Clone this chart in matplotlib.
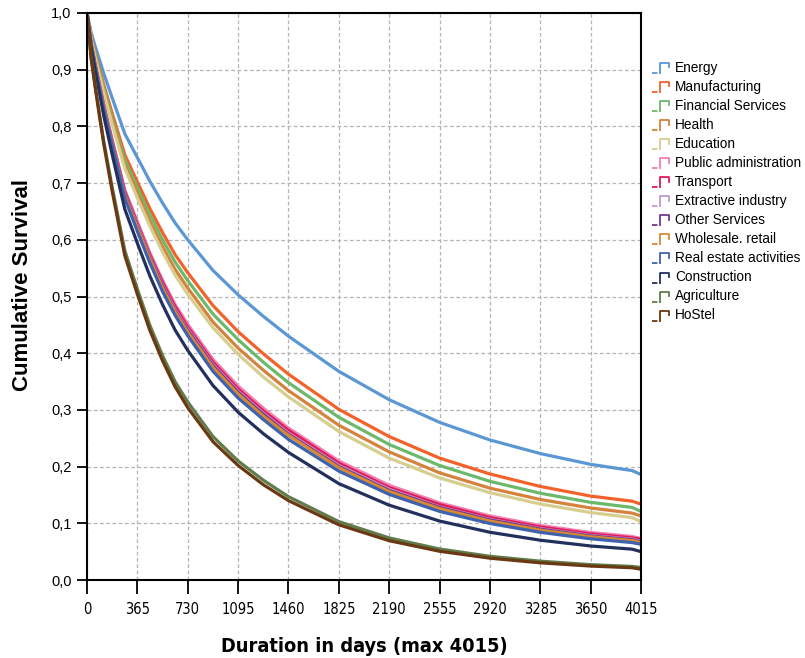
import matplotlib
matplotlib.use('Agg')
import matplotlib.pyplot as plt
from matplotlib import font_manager as fm
from matplotlib.lines import Line2D
from matplotlib.legend_handler import HandlerBase
from matplotlib.ticker import FuncFormatter

# days at which the survival curves were read
days = [0, 30, 61, 91, 122, 183, 274, 365, 456, 547, 638, 730, 913, 1095, 1278, 1460,
        1825, 2190, 2555, 2920, 3285, 3650, 3950, 4015]

sectors = ['Energy', 'Manufacturing', 'Financial Services', 'Health', 'Education',
           'Public administration', 'Transport', 'Extractive industry', 'Other Services',
           'Wholesale. retail', 'Real estate activities', 'Construction', 'Agriculture', 'HoStel']

colors = ['#5b97d4', '#f2622a', '#6cb96c', '#d4823c', '#d6cd8e', '#f07fb2', '#e0195a',
          '#c49ad2', '#74388c', '#d98a30', '#3f62ae', '#23305e', '#5f7c4a', '#6a3812']

energy = [1.0, 0.965, 0.94, 0.917, 0.893, 0.85, 0.787, 0.745, 0.703, 0.665, 0.630, 0.600, 0.546,
          0.503, 0.465, 0.430, 0.368, 0.318, 0.278, 0.247, 0.223, 0.204, 0.193, 0.186]
manufacturing = [1.0, 0.958, 0.928, 0.901, 0.873, 0.823, 0.750, 0.702, 0.655, 0.613, 0.574, 0.542,
                 0.484, 0.438, 0.399, 0.363, 0.301, 0.253, 0.215, 0.187, 0.165, 0.148, 0.139, 0.134]
financial = [1.0, 0.956, 0.926, 0.897, 0.868, 0.816, 0.741, 0.692, 0.644, 0.600, 0.561, 0.528,
             0.469, 0.424, 0.384, 0.348, 0.287, 0.239, 0.202, 0.174, 0.153, 0.137, 0.128, 0.121]
health = [1.0, 0.955, 0.923, 0.893, 0.863, 0.810, 0.732, 0.682, 0.632, 0.588, 0.548, 0.515,
          0.455, 0.409, 0.370, 0.334, 0.273, 0.226, 0.189, 0.162, 0.142, 0.127, 0.118, 0.113]
education = [1.0, 0.953, 0.920, 0.890, 0.859, 0.804, 0.726, 0.674, 0.624, 0.579, 0.538, 0.504,
             0.445, 0.398, 0.358, 0.323, 0.262, 0.215, 0.180, 0.154, 0.134, 0.119, 0.110, 0.103]
public_adm = [1.0, 0.946, 0.908, 0.873, 0.838, 0.776, 0.688, 0.632, 0.577, 0.529, 0.486, 0.451,
              0.389, 0.342, 0.303, 0.268, 0.210, 0.167, 0.136, 0.113, 0.0962, 0.0838, 0.0768, 0.073]
transport = [1.0, 0.945, 0.907, 0.872, 0.836, 0.774, 0.685, 0.628, 0.573, 0.525, 0.482, 0.446,
             0.384, 0.337, 0.298, 0.264, 0.206, 0.163, 0.133, 0.110, 0.0934, 0.0812, 0.0743, 0.072]
extractive = [1.0, 0.945, 0.906, 0.870, 0.834, 0.771, 0.681, 0.625, 0.569, 0.520, 0.477, 0.442,
              0.380, 0.333, 0.294, 0.259, 0.202, 0.160, 0.129, 0.107, 0.0906, 0.0786, 0.0719, 0.068]
other_serv = [1.0, 0.944, 0.905, 0.870, 0.833, 0.770, 0.680, 0.623, 0.567, 0.518, 0.475, 0.440,
              0.378, 0.331, 0.292, 0.257, 0.200, 0.158, 0.128, 0.106, 0.0897, 0.0777, 0.0710, 0.067]
wholesale = [1.0, 0.944, 0.904, 0.869, 0.832, 0.768, 0.677, 0.621, 0.565, 0.515, 0.473, 0.437,
             0.375, 0.328, 0.289, 0.255, 0.198, 0.156, 0.126, 0.104, 0.0879, 0.0762, 0.0695, 0.066]
real_estate = [1.0, 0.943, 0.903, 0.867, 0.829, 0.765, 0.673, 0.615, 0.559, 0.509, 0.467, 0.431,
               0.368, 0.321, 0.283, 0.248, 0.192, 0.151, 0.121, 0.0997, 0.0841, 0.0727, 0.066, 0.063]
construction = [1.0, 0.939, 0.896, 0.858, 0.818, 0.750, 0.654, 0.594, 0.536, 0.486, 0.441, 0.405,
                0.343, 0.296, 0.258, 0.225, 0.170, 0.132, 0.104, 0.0842, 0.0702, 0.060, 0.0544, 0.050]
agriculture = [1.0, 0.922, 0.869, 0.821, 0.773, 0.692, 0.581, 0.513, 0.449, 0.396, 0.350, 0.314,
               0.253, 0.210, 0.176, 0.147, 0.103, 0.0742, 0.0547, 0.0418, 0.0332, 0.0271, 0.0239, 0.022]
hostel = [1.0, 0.920, 0.866, 0.817, 0.768, 0.685, 0.572, 0.504, 0.440, 0.387, 0.341, 0.304,
          0.244, 0.202, 0.168, 0.140, 0.0974, 0.0693, 0.0507, 0.0385, 0.0303, 0.0246, 0.0216, 0.019]

series = [energy, manufacturing, financial, health, education, public_adm, transport,
          extractive, other_serv, wholesale, real_estate, construction, agriculture, hostel]

xticks = [0, 365, 730, 1095, 1460, 1825, 2190, 2555, 2920, 3285, 3650, 4015]

# the original uses a narrow Arial-like face on the x axis
installed = {f.name for f in fm.fontManager.ttflist}
if 'Liberation Sans Narrow' in installed:
    narrow = dict(family='Liberation Sans Narrow')
else:
    narrow = dict(family='DejaVu Sans', stretch='condensed')


class HandlerStep(HandlerBase):
    # little step-shaped legend key
    def create_artists(self, legend, orig_handle, xdescent, ydescent, width, height, fontsize, trans):
        c = orig_handle.get_color()
        x0, y0 = -xdescent, -ydescent - 1
        low = Line2D([x0, x0 + width * 0.45], [y0] * 2, color=c, lw=1.3,
                     linestyle=(0, (3, 1)), transform=trans)
        step = Line2D([x0 + width * 0.45, x0 + width * 0.45, x0 + width * 0.92, x0 + width * 0.92],
                      [y0, y0 + height * 1.05, y0 + height * 1.05, y0 + height * 0.6],
                      color=c, lw=1.3, transform=trans)
        return [low, step]


fig = plt.figure(figsize=(8.05, 6.58), dpi=100)
ax = fig.add_axes([87 / 805, 1 - 580 / 658, (641 - 87) / 805, (580 - 13) / 658])

handles = []
for name, vals, c in zip(sectors, series, colors):
    ln, = ax.plot(days, vals, color=c, lw=2.3, label=name)
    handles.append(ln)

ax.set_xlim(0, 4015)
ax.set_ylim(0, 1.0)
ax.set_xticks(xticks)
ax.set_yticks([i / 10 for i in range(11)])
ax.yaxis.set_major_formatter(FuncFormatter(lambda v, p: f'{v:.1f}'.replace('.', ',')))
ax.grid(True, color='#b4b4b4', linestyle=(0, (3, 2)), linewidth=0.9)
ax.set_axisbelow(True)
for s in ax.spines.values():
    s.set_linewidth(1.5)
    s.set_color('black')

ax.tick_params(axis='x', direction='out', length=10, width=1.3, pad=6, labelsize=10.5)
ax.tick_params(axis='y', direction='out', length=7, width=1.3, pad=4, labelsize=10.5)
for lab in ax.get_xticklabels():
    lab.set_fontfamily(narrow['family'])
    if 'stretch' in narrow:
        lab.set_fontstretch(narrow['stretch'])
for lab in ax.get_yticklabels():
    lab.set_fontfamily('Liberation Sans')

ax.set_xlabel('Duration in days (max 4015)', fontsize=14.3, fontweight='bold', labelpad=14, **narrow)
ax.set_ylabel('Cumulative Survival', fontsize=16, fontweight='bold',
              family='Liberation Sans', labelpad=13)
ax.yaxis.label.set_y(0.52)

leg = ax.legend(handles=handles, handler_map={Line2D: HandlerStep()}, loc='upper left',
                bbox_to_anchor=(1.0, 0.935), frameon=False,
                prop={'family': 'Liberation Sans', 'size': 9.8},
                handlelength=1.4, handletextpad=0.3, labelspacing=0.37,
                borderaxespad=0.8, borderpad=0)

fig.savefig('out.png', dpi=100)
